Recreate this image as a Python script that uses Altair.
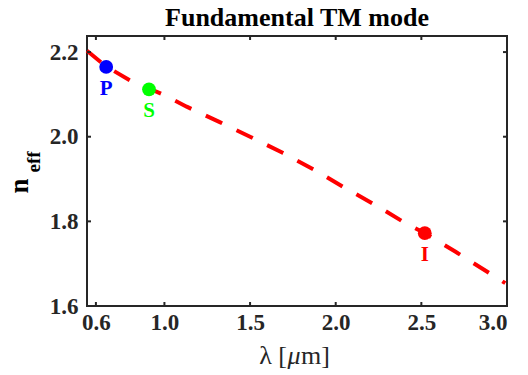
import altair as alt
import pandas as pd

# Dispersion curve
wavelength = [0.548, 0.66, 0.80, 0.98, 1.13, 1.32, 1.50, 1.69, 1.87, 2.05, 2.23, 2.41, 2.52, 2.70, 2.99]
n_eff = [2.203, 2.166, 2.133, 2.102, 2.071, 2.035, 2.000, 1.962, 1.923, 1.880, 1.839, 1.795, 1.772, 1.728, 1.654]

# Marked points
pt_names = ["P", "S", "I"]
pt_wavelength = [0.66, 0.91, 2.52]
pt_neff = [2.165, 2.112, 1.772]
pt_colors = ["#0000FF", "#00FF00", "#FF0000"]

x_ticks = [0.6, 1.0, 1.5, 2.0, 2.5, 3.0]
y_ticks = [1.6, 1.8, 2.0, 2.2]
x_domain = [0.548, 3.0]
y_domain = [1.6, 2.238]

FONT = "Liberation Serif, Times New Roman, serif"
AX = "#262626"
W, H = 420, 270

line_df = pd.DataFrame({"x": wavelength, "y": n_eff})
pts_df = pd.DataFrame({"x": pt_wavelength, "y": pt_neff, "name": pt_names, "c": pt_colors})
xt_df = pd.DataFrame({"v": x_ticks})
yt_df = pd.DataFrame({"v": y_ticks})

xs = alt.Scale(domain=x_domain, nice=False, zero=False)
ys = alt.Scale(domain=y_domain, nice=False, zero=False)

axis_style = dict(domain=False, ticks=False, grid=False, format=".1f",
                  labelFont=FONT, labelFontWeight="bold", labelFontSize=23, labelColor=AX)

line = alt.Chart(line_df).mark_line(
    color="#FF0000", strokeWidth=4, strokeDash=[18, 16], strokeCap="butt"
).encode(
    x=alt.X("x:Q", scale=xs, title=None,
            axis=alt.Axis(values=x_ticks, labelPadding=5, **axis_style)),
    y=alt.Y("y:Q", scale=ys, title=None,
            axis=alt.Axis(values=y_ticks, labelPadding=9, **axis_style)),
)

points = alt.Chart(pts_df).mark_circle(size=190, opacity=1).encode(
    x=alt.X("x:Q", scale=xs), y=alt.Y("y:Q", scale=ys),
    color=alt.Color("c:N", scale=None),
)
labels = alt.Chart(pts_df).mark_text(
    font=FONT, fontWeight="bold", fontSize=21, dy=22, baseline="middle"
).encode(
    x=alt.X("x:Q", scale=xs), y=alt.Y("y:Q", scale=ys),
    text="name:N", color=alt.Color("c:N", scale=None),
)

tick_len = 4
bot = alt.Chart(xt_df).mark_rule(color=AX, strokeWidth=2).encode(
    x=alt.X("v:Q", scale=xs), y=alt.value(H), y2=alt.value(H - tick_len))
top = alt.Chart(xt_df).mark_rule(color=AX, strokeWidth=2).encode(
    x=alt.X("v:Q", scale=xs), y=alt.value(0), y2=alt.value(tick_len))
left = alt.Chart(yt_df).mark_rule(color=AX, strokeWidth=2).encode(
    y=alt.Y("v:Q", scale=ys), x=alt.value(0), x2=alt.value(tick_len))
right = alt.Chart(yt_df).mark_rule(color=AX, strokeWidth=2).encode(
    y=alt.Y("v:Q", scale=ys), x=alt.value(W), x2=alt.value(W - tick_len))

ylab_n = alt.Chart(pd.DataFrame({"t": ["n"]})).mark_text(
    font=FONT, fontWeight="bold", fontSize=27, angle=270, align="center", baseline="middle", color="#000000"
).encode(text="t:N", x=alt.value(-67), y=alt.value(150))
ylab_sub = alt.Chart(pd.DataFrame({"t": ["eff"]})).mark_text(
    font=FONT, fontWeight="bold", fontSize=19, angle=270, align="center", baseline="middle", color="#000000"
).encode(text="t:N", x=alt.value(-53), y=alt.value(126))

# x-axis title "λ [μm]" with italic μ
XT_Y = 328
xl_a = alt.Chart(pd.DataFrame({"t": ["λ ["]})).mark_text(
    font=FONT, fontSize=26, align="right", baseline="alphabetic", color=AX
).encode(text="t:N", x=alt.value(200), y=alt.value(XT_Y))
xl_b = alt.Chart(pd.DataFrame({"t": ["μ"]})).mark_text(
    font=FONT, fontSize=26, fontStyle="italic", align="center", baseline="alphabetic", color=AX
).encode(text="t:N", x=alt.value(207), y=alt.value(XT_Y))
xl_c = alt.Chart(pd.DataFrame({"t": ["m]"]})).mark_text(
    font=FONT, fontSize=26, align="left", baseline="alphabetic", color=AX
).encode(text="t:N", x=alt.value(214), y=alt.value(XT_Y))

chart = alt.layer(line, points, labels, bot, top, left, right, ylab_n, ylab_sub, xl_a, xl_b, xl_c).properties(
    width=W, height=H,
    title=alt.TitleParams("Fundamental TM mode", font=FONT, fontWeight="bold", fontSize=26,
                          color="#000000", offset=4, anchor="middle"),
    autosize=alt.AutoSizeParams(type="none"),
    padding={"left": 79, "top": 28, "right": 13, "bottom": 72},
).configure_view(
    stroke=AX, strokeWidth=2
)

chart.save("out.html", embed_options={"renderer": "svg", "actions": False})
